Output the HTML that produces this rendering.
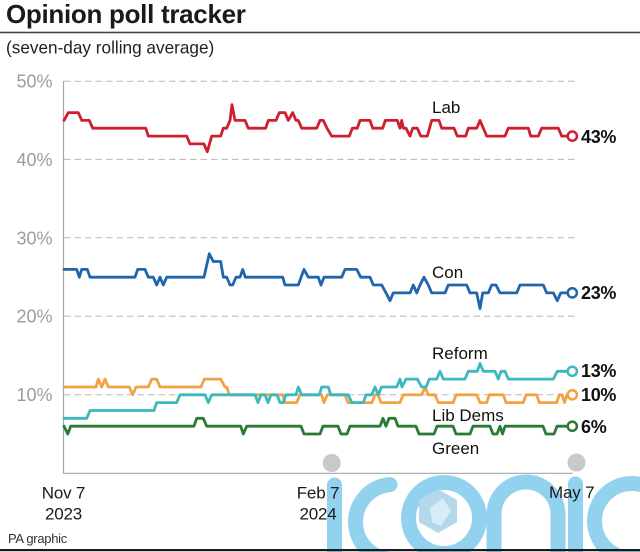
<!DOCTYPE html>
<html><head><meta charset="utf-8"><style>
html,body{margin:0;padding:0;background:#fff;}
svg{display:block;}
text{font-family:"Liberation Sans",Arial,sans-serif;}
</style></head><body>
<svg width="640" height="552" viewBox="0 0 640 552" xmlns="http://www.w3.org/2000/svg">
<rect width="640" height="552" fill="#fff"/>
<!-- Title -->
<text x="6" y="23" font-size="26" font-weight="bold" letter-spacing="-0.3" fill="#1a1a1a">Opinion poll tracker</text>
<rect x="0" y="31.7" width="640" height="1.6" fill="#444"/>
<text x="6" y="53.5" font-size="17.2" fill="#222">(seven-day rolling average)</text>

<!-- grid -->
<g stroke="#b8b8b8" stroke-width="1" stroke-dasharray="6.5 4" fill="none">
<line x1="64" y1="81.2" x2="575" y2="81.2"/>
<line x1="64" y1="159.4" x2="575" y2="159.4"/>
<line x1="64" y1="237.8" x2="575" y2="237.8"/>
<line x1="64" y1="316.2" x2="575" y2="316.2"/>
<line x1="64" y1="394.8" x2="575" y2="394.8"/>
</g>
<g font-size="18" fill="#9c9c9c" text-anchor="end">
<text x="52.5" y="87.7">50%</text>
<text x="52.5" y="165.9">40%</text>
<text x="52.5" y="244.3">30%</text>
<text x="52.5" y="322.7">20%</text>
<text x="52.5" y="401.1">10%</text>
</g>

<!-- watermark -->
<g fill="none" stroke="#93d2ef" stroke-width="15" stroke-linecap="round">
<line x1="334.5" y1="485" x2="334.5" y2="570"/>
<path d="M 390 484.6 A 37.5 37.5 0 0 0 355.5 522 A 37.5 37.5 0 0 0 393 559.5"/>
<circle cx="444" cy="518" r="35.5"/>
<path d="M 494 570 L 494 514 A 32 32 0 0 1 558 514 L 558 570" stroke-linecap="butt"/>
<line x1="575.5" y1="484" x2="575.5" y2="570"/>
<circle cx="632" cy="521" r="37.5"/>
</g>
<polygon points="438,489 457,500 457,522 438,533 419,522 419,500" fill="#b4d8eb"/>
<polygon points="443,498 451,511 441,526 432,522 430,508" fill="#d6edf8"/>

<!-- axes -->
<line x1="63.5" y1="81" x2="63.5" y2="473.8" stroke="#a8a8a8" stroke-width="1.2"/>
<line x1="63" y1="473.3" x2="573" y2="473.3" stroke="#a8a8a8" stroke-width="1.2"/>

<!-- grey dots -->
<circle cx="331.7" cy="463" r="9" fill="#c9c9c9"/>
<circle cx="576.5" cy="462.5" r="9" fill="#c9c9c9"/>

<!-- series -->
<g fill="none" stroke-width="2.8" stroke-linejoin="round" stroke-linecap="round">
<polyline stroke="#2b7a36" points="64,426.2 67.7,434 70.7,426.2 194,426.2 196.7,418.3 203.3,418.3 206.7,426.2 240.7,426.2 243.3,434 246.7,426.2 301,426.2 304,434 320,434 323,426.2 338,426.2 341,434 347,434 350,426.2 380,426.2 383,418.3 386,426.2 389,418.3 395,418.3 398,426.2 416,426.2 419,434 434,434 437,426.2 453,426.2 456,434 470,434 473,426.2 490,426.2 493,434 497,434 500,426.2 502.5,434 505,426.2 543,426.2 546,434 554,434 557,426.2 572.3,426.2"/>
<polyline stroke="#f0a340" points="64,387 96,387 98.3,379.1 101.7,387 105,379.1 108.3,387 129.3,387 132.7,394.8 136,387 148.3,387 151.7,379.1 156.7,379.1 160,387 201,387 204.3,379.1 220.7,379.1 225,387 226.7,387 229.3,394.8 283,394.8 285,402.6 296.7,402.6 300,394.8 321.5,394.8 324,402.6 327.3,394.8 345,394.8 348,402.6 372,402.6 375,394.8 378,394.8 381,402.6 400,402.6 403.3,394.8 421.7,394.8 425,387 428.3,394.8 435,394.8 438.3,402.6 453.3,402.6 456,394.8 476.7,394.8 480,402.6 486.7,402.6 489.3,394.8 503.3,394.8 506,402.6 523.3,402.6 526,394.8 536.7,394.8 539.3,402.6 556.7,402.6 559.3,394.8 562,394.8 564.5,402.6 567,394.8 572.3,394.8"/>
<polyline stroke="#3cb9bd" points="64,418.3 86.7,418.3 90,410.5 154,410.5 156.7,402.6 176.7,402.6 180,394.8 205,394.8 208.3,402.6 211.7,394.8 255,394.8 258,402.6 261,394.8 265,394.8 268,402.6 271,394.8 277,394.8 280,402.6 283,402.6 286,394.8 296,394.8 298.3,387 301.7,394.8 319.3,394.8 321.7,387 328.3,387 330.7,394.8 348.3,394.8 351.7,402.6 363.3,402.6 366,394.8 371.7,394.8 375,387 378.3,394.8 381.5,387 396.7,387 400,379.1 402,387 406,379.1 417.3,379.1 421.7,387 426,387 429.3,379.1 436.7,379.1 440,371.3 443.3,379.1 465,379.1 468.3,371.3 477.3,371.3 480,363.4 483.3,371.3 495,371.3 498.3,379.1 501,371.3 505,371.3 508.3,379.1 553.3,379.1 557.3,371.3 572.3,371.3"/>
<polyline stroke="#1f66aa" points="64,269.4 76.7,269.4 79.3,277.2 81.7,269.4 87.3,269.4 90,277.2 135,277.2 137.7,269.4 145,269.4 148.3,277.2 153.3,277.2 156.7,285 160,277.2 163.3,285 166.7,277.2 204,277.2 209.3,253.7 213.3,261.5 220.7,261.5 223.3,277.2 226.7,277.2 230,285 232.7,285 236,277.2 240,277.2 242.7,269.4 245.3,277.2 282.7,277.2 285,285 298.3,285 304,269.4 308.3,277.2 318.3,277.2 321,285 324,277.2 341.7,277.2 345,269.4 356.7,269.4 360.7,277.2 370,277.2 373.3,285 381.7,285 386,292.9 390,300.7 393.3,292.9 410,292.9 413.3,285 416.7,292.9 420,285 424,277.2 428.3,285 431.7,292.9 445,292.9 448.3,285 466.7,285 470,292.9 476.7,292.9 480,308.6 482.7,292.9 488.3,292.9 491.7,285 496,285 500,292.9 516.7,292.9 520,285 543.3,285 546.7,292.9 553.3,292.9 557.3,300.7 560.7,292.9 572.3,292.9"/>
<polyline stroke="#cf1f2f" points="64,120.4 68.3,112.6 78.3,112.6 81.7,120.4 89.3,120.4 92.7,128.2 145.7,128.2 148.3,136.1 186.7,136.1 190,143.9 204,143.9 207.3,151.8 211.7,136.1 220.7,136.1 223.3,128.2 226.7,128.2 230,120.4 232,104.7 235,120.4 245,120.4 248.3,128.2 265.7,128.2 268.3,120.4 276,120.4 279.3,112.6 285,112.6 288.3,120.4 292.7,112.6 296,120.4 298.3,120.4 301.7,128.2 316.7,128.2 320,120.4 323.3,120.4 327,128.2 331.7,136.1 349.3,136.1 352.3,128.2 357.3,128.2 360,120.4 370,120.4 372.7,128.2 382.7,128.2 385.3,120.4 397.3,120.4 400,128.2 401.7,120.4 403.3,128.2 406,128.2 410,136.1 412.7,128.2 417.3,128.2 420.7,136.1 427.3,136.1 431.7,120.4 439,120.4 441.7,128.2 454,128.2 457.3,136.1 465.7,136.1 468.3,128.2 476.7,128.2 480,120.4 483.3,128.2 486.7,136.1 505,136.1 508.3,128.2 528.3,128.2 530.7,136.1 538.3,136.1 541.7,128.2 558.3,128.2 561.7,136.1 572.3,136.1"/>
</g>
<g fill="#fff" stroke-width="2.5">
<circle cx="572.3" cy="426.2" r="4.6" stroke="#2b7a36"/>
<circle cx="572.3" cy="394.8" r="4.6" stroke="#f0a340"/>
<circle cx="572.3" cy="371.3" r="4.6" stroke="#3cb9bd"/>
<circle cx="572.3" cy="292.9" r="4.6" stroke="#1f66aa"/>
<circle cx="572.3" cy="136.1" r="4.6" stroke="#cf1f2f"/>
</g>

<!-- series labels -->
<g font-size="17" fill="#111">
<text x="432" y="113">Lab</text>
<text x="432" y="278">Con</text>
<text x="432" y="359">Reform</text>
<text x="432" y="421">Lib Dems</text>
<text x="432" y="454">Green</text>
</g>
<g font-size="18" font-weight="bold" fill="#111" letter-spacing="-0.3">
<text x="581" y="143">43%</text>
<text x="581" y="299">23%</text>
<text x="581" y="377">13%</text>
<text x="581" y="401">10%</text>
<text x="581" y="433">6%</text>
</g>

<!-- x labels -->
<g font-size="17" fill="#1a1a1a" text-anchor="middle" letter-spacing="-0.2">
<text x="63.5" y="498.3">Nov 7</text>
<text x="63.5" y="519.3">2023</text>
<text x="318" y="498.3">Feb 7</text>
<text x="318" y="519.3">2024</text>
<text x="571.7" y="498">May 7</text>
</g>

<text x="8" y="543" font-size="13" fill="#333" letter-spacing="-0.3">PA graphic</text>
<rect x="0" y="549" width="640" height="2.2" fill="#1a1a1a"/>
</svg>
</body></html>
